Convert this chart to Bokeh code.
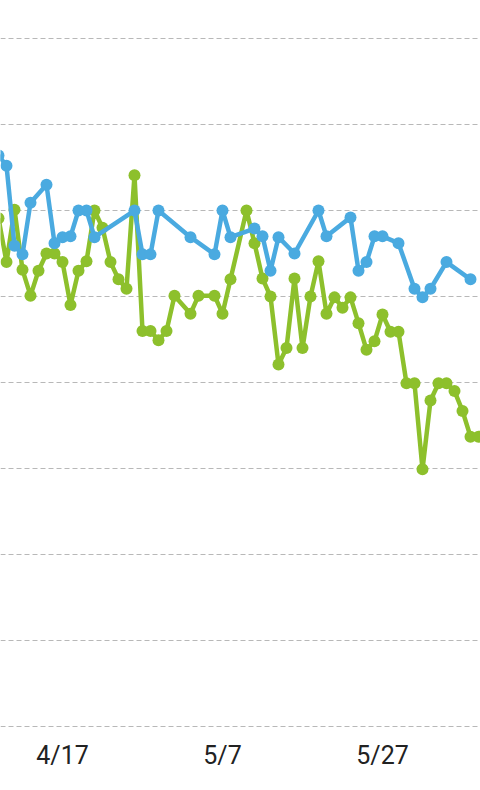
import pandas as pd
from bokeh.plotting import figure
from bokeh.models import FixedTicker, ColumnDataSource
from bokeh.embed import file_html
from bokeh.resources import INLINE

# ---- data ----
base_date = "2024-04-17"
tick_dates = ["2024-04-17", "2024-05-07", "2024-05-27"]
tick_labels = ["4/17", "5/7", "5/27"]

green_dates = [
    "2024-04-09", "2024-04-10", "2024-04-11", "2024-04-12", "2024-04-13", "2024-04-14",
    "2024-04-15", "2024-04-16", "2024-04-17", "2024-04-18", "2024-04-19", "2024-04-20",
    "2024-04-21", "2024-04-22", "2024-04-23", "2024-04-24", "2024-04-25", "2024-04-26",
    "2024-04-27", "2024-04-28", "2024-04-29", "2024-04-30", "2024-05-01", "2024-05-03",
    "2024-05-04", "2024-05-06", "2024-05-07", "2024-05-08", "2024-05-10", "2024-05-11",
    "2024-05-12", "2024-05-13", "2024-05-14", "2024-05-15", "2024-05-16", "2024-05-17",
    "2024-05-18", "2024-05-19", "2024-05-20", "2024-05-21", "2024-05-22", "2024-05-23",
    "2024-05-24", "2024-05-25", "2024-05-26", "2024-05-27", "2024-05-28", "2024-05-29",
    "2024-05-30", "2024-05-31", "2024-06-01", "2024-06-02", "2024-06-03", "2024-06-04",
    "2024-06-05", "2024-06-06", "2024-06-07", "2024-06-08",
]
green_values = [
    59.1, 54.0, 60.1, 53.1, 50.1, 53.0, 55.0, 55.0, 54.0, 49.0, 53.0, 54.1,
    60.0, 58.0, 54.0, 52.0, 50.9, 64.1, 46.0, 46.0, 44.9, 46.0, 50.1, 48.0,
    50.1, 50.1, 48.0, 52.0, 60.0, 56.2, 52.1, 50.0, 42.1, 44.0, 52.1, 44.0,
    50.0, 54.1, 48.0, 49.9, 48.7, 49.9, 46.9, 43.8, 44.8, 47.9, 45.9, 45.9,
    39.9, 39.9, 29.9, 37.9, 39.9, 39.9, 39.0, 36.7, 33.7, 33.7,
]

blue_dates = [
    "2024-04-09", "2024-04-10", "2024-04-11", "2024-04-12", "2024-04-13", "2024-04-15",
    "2024-04-16", "2024-04-17", "2024-04-18", "2024-04-19", "2024-04-20", "2024-04-21",
    "2024-04-26", "2024-04-27", "2024-04-28", "2024-04-29", "2024-05-03", "2024-05-06",
    "2024-05-07", "2024-05-08", "2024-05-11", "2024-05-12", "2024-05-13", "2024-05-14",
    "2024-05-16", "2024-05-19", "2024-05-20", "2024-05-23", "2024-05-24", "2024-05-25",
    "2024-05-26", "2024-05-27", "2024-05-29", "2024-05-31", "2024-06-01", "2024-06-02",
    "2024-06-04", "2024-06-07",
]
blue_values = [
    66.4, 65.2, 55.9, 54.9, 60.9, 63.0, 56.2, 56.9, 57.0, 60.0, 60.0, 56.9,
    60.0, 54.9, 54.9, 60.0, 56.9, 54.9, 60.0, 56.9, 57.9, 57.0, 53.0, 56.9,
    55.0, 60.0, 57.0, 59.2, 53.0, 54.0, 57.0, 57.0, 56.2, 50.9, 49.9, 50.9,
    54.0, 52.0,
]

grid_values = [0, 10, 20, 30, 40, 50, 60, 70, 80]

GREEN = "#8dc02c"
BLUE = "#4aaae0"


def to_days(dates):
    b = pd.Timestamp(base_date)
    return [(pd.Timestamp(d) - b).days for d in dates]


green_src = ColumnDataSource(dict(x=to_days(green_dates), y=green_values))
blue_src = ColumnDataSource(dict(x=to_days(blue_dates), y=blue_values))
tick_pos = to_days(tick_dates)

p = figure(
    frame_width=480, frame_height=727,
    x_range=(-7.75, 52.25), y_range=(-0.116, 84.42),
    output_backend="svg", toolbar_location=None,
    min_border_left=0, min_border_right=0, min_border_top=0, min_border_bottom=0,
)
p.outline_line_color = None
p.background_fill_color = "white"
p.border_fill_color = "white"

p.yaxis.visible = False
p.ygrid.ticker = FixedTicker(ticks=grid_values)
p.ygrid.grid_line_color = "#b8b8b8"
p.ygrid.grid_line_dash = "5 3"
p.ygrid.grid_line_width = 1
p.xgrid.visible = False

xa = p.xaxis[0]
xa.ticker = FixedTicker(ticks=tick_pos)
xa.major_label_overrides = {t: l for t, l in zip(tick_pos, tick_labels)}
xa.axis_line_color = None
xa.major_tick_line_color = None
xa.minor_tick_line_color = None
xa.major_label_text_font = "Roboto"
xa.major_label_text_font_size = "25px"
xa.major_label_text_color = "#222222"
xa.major_label_standoff = 7

p.line("x", "y", source=green_src, line_color=GREEN, line_width=4.5)
p.scatter("x", "y", source=green_src, size=12, fill_color=GREEN, line_color=None)
p.line("x", "y", source=blue_src, line_color=BLUE, line_width=4.5)
p.scatter("x", "y", source=blue_src, size=12, fill_color=BLUE, line_color=None)

open("out.html", "w").write(file_html(p, INLINE))
